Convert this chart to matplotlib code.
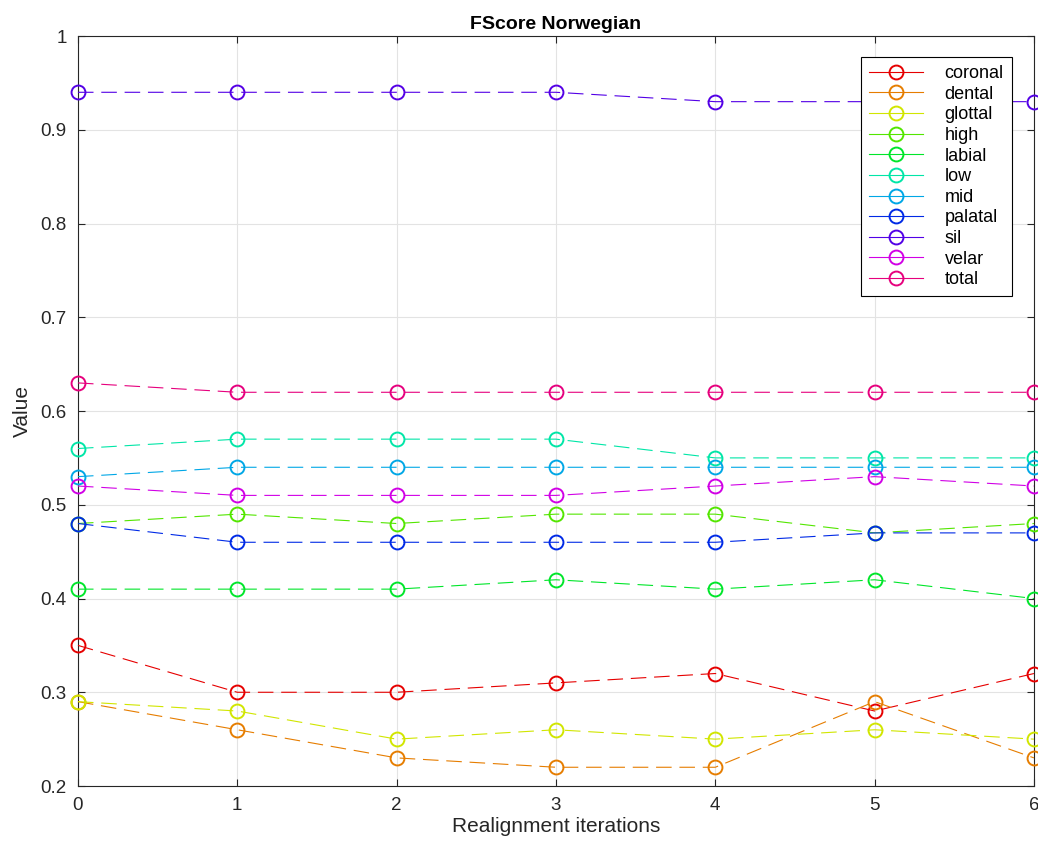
import matplotlib
matplotlib.use("Agg")
import matplotlib.pyplot as plt
import numpy as np

plt.rcParams["font.family"] = ["Liberation Sans", "DejaVu Sans"]

iterations = [0, 1, 2, 3, 4, 5, 6]
labels = ["coronal", "dental", "glottal", "high", "labial", "low",
          "mid", "palatal", "sil", "velar", "total"]

coronal = [0.35, 0.30, 0.30, 0.31, 0.32, 0.28, 0.32]
dental = [0.29, 0.26, 0.23, 0.22, 0.22, 0.29, 0.23]
glottal = [0.29, 0.28, 0.25, 0.26, 0.25, 0.26, 0.25]
high = [0.48, 0.49, 0.48, 0.49, 0.49, 0.47, 0.48]
labial = [0.41, 0.41, 0.41, 0.42, 0.41, 0.42, 0.40]
low = [0.56, 0.57, 0.57, 0.57, 0.55, 0.55, 0.55]
mid = [0.53, 0.54, 0.54, 0.54, 0.54, 0.54, 0.54]
palatal = [0.48, 0.46, 0.46, 0.46, 0.46, 0.47, 0.47]
sil = [0.94, 0.94, 0.94, 0.94, 0.93, 0.93, 0.93]
velar = [0.52, 0.51, 0.51, 0.51, 0.52, 0.53, 0.52]
total = [0.63, 0.62, 0.62, 0.62, 0.62, 0.62, 0.62]

series = [coronal, dental, glottal, high, labial, low,
          mid, palatal, sil, velar, total]

# matlab-ish hsv colours, slightly darkened
colors = [matplotlib.colors.hsv_to_rgb((i / 11, 1.0, 0.9)) for i in range(11)]

fig = plt.figure(figsize=(10.38, 8.48), dpi=100)
ax = fig.add_axes([0.0751, 0.0731, 0.921, 0.8844])

for vals, lab, c in zip(series, labels, colors):
    ax.plot(iterations, vals, linestyle=(0, (14, 7)), lw=0.8, color=c,
            marker="o", markersize=10, markerfacecolor="none",
            markeredgewidth=1.4, label=lab, clip_on=False, zorder=3)

ax.set_xlim(0, 6)
ax.set_ylim(0.2, 1.0)
ax.set_xticks(iterations)
ax.set_yticks(np.arange(0.2, 1.01, 0.1))
ax.set_yticklabels(["0.2", "0.3", "0.4", "0.5", "0.6", "0.7", "0.8", "0.9", "1"])
ax.grid(True, color="#e3e3e3", lw=0.8)
ax.set_axisbelow(True)
ax.tick_params(direction="in", length=5, labelsize=13.5, colors="#262626",
               top=True, right=True, pad=8)
for s in ax.spines.values():
    s.set_color("#262626")
    s.set_linewidth(0.8)

ax.set_xlabel("Realignment iterations", fontsize=15, color="#262626", labelpad=2)
ax.set_ylabel("Value", fontsize=15, color="#262626", labelpad=6)
ax.set_title("FScore Norwegian", fontsize=14, fontweight="bold", pad=5)

leg = ax.legend(loc="upper right", bbox_to_anchor=(0.977, 0.972),
                borderaxespad=0, fontsize=13, fancybox=False,
                edgecolor="black", framealpha=1, labelspacing=0.2,
                handlelength=3.0, handletextpad=1.2, borderpad=0.45)
leg.get_frame().set_linewidth(0.8)
for ln in leg.get_lines():
    ln.set_linestyle("-")

fig.savefig("out.png", dpi=100)
